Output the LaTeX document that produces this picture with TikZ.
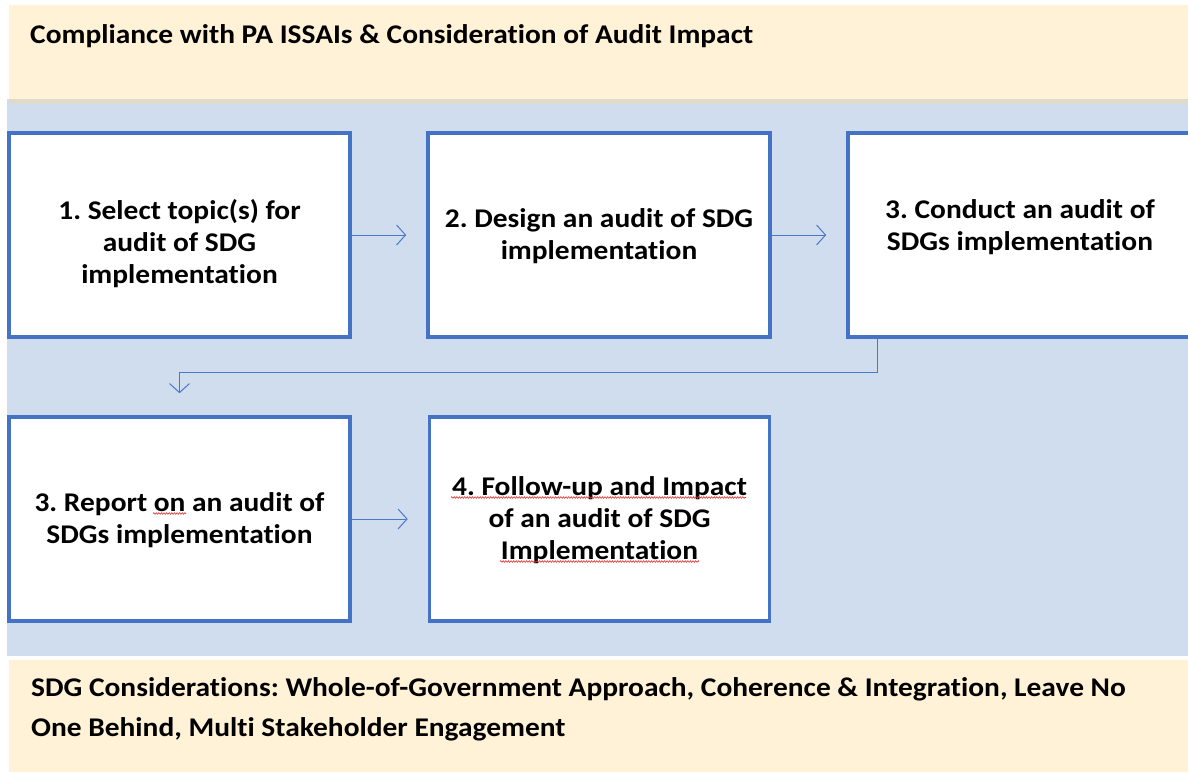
\documentclass[tikz,border=0pt]{standalone}
\usepackage{fontspec}
\setmainfont{Carlito}[Ligatures=NoCommon,FakeStretch=1.09]
\usetikzlibrary{arrows.meta,decorations.pathmorphing}
\frenchspacing

\definecolor{bandyellow}{HTML}{FFF2D6}
\definecolor{panelblue}{HTML}{D0DDEF}
\definecolor{overlapgrey}{HTML}{DEDBC8}
\definecolor{stepblue}{HTML}{4472C4}
\definecolor{flowblue}{HTML}{4A78CA}
\definecolor{spellred}{HTML}{E03030}

\begin{document}
\begin{tikzpicture}[x=1pt,y=-1pt,
  stepbox/.style={draw=stepblue,line width=3.6pt,fill=white,inner sep=0pt,
    minimum height=204pt},
  % anchor=base sits on the baseline of the last line
  steptext/.style={anchor=base,align=center,inner sep=0pt,
    font=\bfseries\fontsize{27}{31.8}\selectfont},
  bandtext/.style={anchor=base west,align=left,inner sep=0pt,
    font=\bfseries\fontsize{27}{40}\selectfont},
  flow/.style={draw=flowblue,line width=1pt,
    -{Straight Barb[length=9pt,width=20pt,line width=1pt]}},
  spell/.style={draw=spellred,line width=0.6pt,
    decorate,decoration={zigzag,segment length=2.6pt,amplitude=0.8pt}}]

\useasboundingbox (0,0) rectangle (1188,772);

% background bands
\fill[panelblue] (7,99) rectangle (1188,656);
\fill[bandyellow] (9,5) rectangle (1188,99);
\fill[overlapgrey] (9,99) rectangle (1188,104);
\fill[bandyellow] (9,660) rectangle (1188,772);

\node[bandtext] (title) at (30,43)
  {Compliance with PA ISSAIs \& Consideration of Audit Impact};
\node[bandtext] (sdg) at (31,736)
  {SDG Considerations: Whole-of-Government Approach, Coherence \& Integration, Leave No\\
   One Behind, Multi Stakeholder Engagement};

% process steps
\node[stepbox,minimum width=341pt] (b1) at (179.5,235) {};
\node[stepbox,minimum width=342pt] (b2) at (599,235) {};
\node[stepbox,minimum width=344pt] (b3) at (1020,235) {};
\node[stepbox,minimum width=341pt] (b4) at (179.5,519) {};
\node[stepbox,minimum width=340pt] (b5) at (599.5,519) {};

% connectors
\draw[flow,shorten >=20pt] (b1.east) -- (b2.west);
\draw[flow,shorten >=20pt] (b2.east) -- (b3.west);
\draw[flow,shorten >=22pt] ([xshift=31pt]b3.south west) -- ++(0,34) -| (b4.north);
\draw[flow,shorten >=20pt] (b4.east) -- (b5.west);

% step labels
\node[steptext] (t1) at (179.5,283) {1. Select topic(s) for\\audit of SDG\\implementation};
\node[steptext] (t2) at (599,259) {2. Design an audit of SDG\\implementation};
\node[steptext] (t3) at (1020,250) {3. Conduct an audit of\\SDGs implementation};
\node[steptext] (t4) at (179.5,543) {3. Report on an audit of\\SDGs implementation};
\node[steptext] (t5) at (599.5,559) {4. Follow-up and Impact\\of an audit of SDG\\Implementation};

% proofing marks under flagged words
\draw[spell] (153,513.5) -- (186,513.5);
\draw[spell] (451,497.5) -- (746,497.5);
\draw[spell] (500,561.5) -- (699,561.5);

\end{tikzpicture}
\end{document}
